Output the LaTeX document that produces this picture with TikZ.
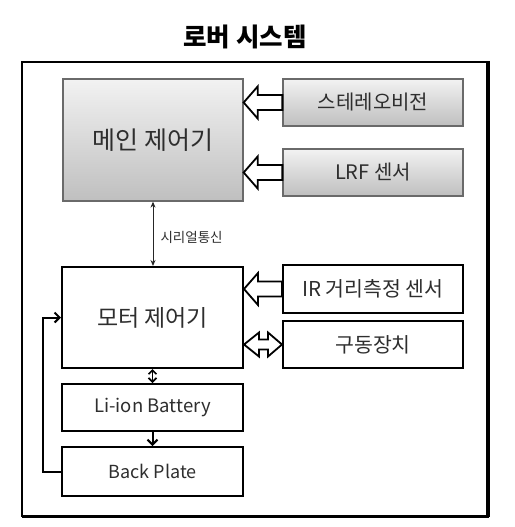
\documentclass[tikz,border=0pt]{standalone}
\usepackage{fontspec}
\setmainfont{Noto Sans CJK KR}
\usetikzlibrary{calc,arrows.meta,shadows}
\definecolor{txt}{HTML}{2E2E2E}
\definecolor{gtop}{HTML}{F2F2F2}
\definecolor{gbot}{HTML}{BFBFBF}
\definecolor{gedge}{HTML}{6A6A6A}
\tikzset{
  graybox/.style={draw=gedge, line width=1.3pt, top color=gtop, bottom color=gbot,
    inner sep=0pt, text=txt, font=\fontsize{20}{22}\selectfont,
    drop shadow={shadow xshift=1.2pt, shadow yshift=-1.2pt, opacity=0.35}},
  whitebox/.style={draw=black, line width=2pt, fill=white, inner sep=0pt, text=txt,
    font=\fontsize{20.5}{22}\selectfont},
  hollow/.style={draw=black, line width=1.8pt, fill=white, line join=miter},
  thinarrow/.style={draw=black!85, line width=0.9pt, {Stealth[length=6pt,width=5pt]}-{Stealth[length=6pt,width=5pt]}},
  barb/.style={draw=black, line width=2pt},
}
\newcommand\harrow[2]{% tip node, tail node
  \coordinate (T) at (#1.east |- #2.west);
  \draw[hollow] (T) -- ($(T)+(14,-16)$) -- ($(T)+(14,-7.5)$) -- ($(#2.west)+(0,-7.5)$)
     -- ($(#2.west)+(0,7.5)$) -- ($(T)+(14,7.5)$) -- ($(T)+(14,16)$) -- cycle;}
\begin{document}
\begin{tikzpicture}[x=1pt,y=-1pt]
\useasboundingbox (0,0) rectangle (514,527);
% title
\node[font=\bfseries\fontsize{25.5}{27}\selectfont, text=black] (title) at (245,37) {로버 시스템};
% frame
\draw[line width=2pt] (22,62) rectangle (487,516);
\draw[line width=3.5pt] (488,61.5) -- (488,517);
\draw[line width=2.5pt] (22,516.5) -- (489,516.5);
% gray boxes
\node[graybox, minimum width=180pt, minimum height=122pt, font=\fontsize{25}{27}\selectfont] (main) at (153,140) {메인 제어기};
\node[graybox, minimum width=180pt, minimum height=47pt] (stereo) at (373,102.5) {스테레오비전};
\node[graybox, minimum width=180pt, minimum height=47pt] (lrf) at (373,172.5) {LRF 센서};
% white boxes
\node[whitebox, minimum width=181pt, minimum height=101pt, font=\fontsize{23}{25}\selectfont] (motor) at (152.5,317.5) {모터 제어기};
\node[whitebox, minimum width=180pt, minimum height=48pt] (ir) at (373,289) {IR 거리측정 센서};
\node[whitebox, minimum width=180pt, minimum height=47pt] (drive) at (373,344.5) {구동장치};
\node[whitebox, minimum width=181pt, minimum height=47pt, font=\fontsize{18.5}{20}\selectfont] (batt) at (152.5,407.5) {Li-ion Battery};
\node[whitebox, minimum width=181pt, minimum height=49pt, font=\fontsize{18}{20}\selectfont] (back) at (152.5,471.5) {Back Plate};
% hollow arrows
\harrow{main}{stereo}
\harrow{main}{lrf}
\harrow{motor}{ir}
% double hollow arrow
\coordinate (L) at (motor.east |- drive.west);
\draw[hollow] (L) -- ($(L)+(15,-12)$) -- ($(L)+(15,-5)$) -- ($(drive.west)+(-14,-5)$)
  -- ($(drive.west)+(-14,-12)$) -- (drive.west) -- ($(drive.west)+(-14,12)$)
  -- ($(drive.west)+(-14,5)$) -- ($(L)+(15,5)$) -- ($(L)+(15,12)$) -- cycle;
% serial link
\draw[thinarrow] (main.south) -- (main.south |- motor.north);
\node[font=\fontsize{13.5}{15}\selectfont, text=txt, anchor=west] (serial) at (157,237) {시리얼통신};
% motor <-> battery
\draw[barb, line width=1.6pt, {Straight Barb[length=4pt,width=8pt]}-{Straight Barb[length=4pt,width=8pt]}] (motor.south) -- (batt.north);
% battery -> back plate
\draw[barb, -{Straight Barb[length=5pt,width=10pt]}] (batt.south) -- (back.north);
% feedback
\draw[barb, -{Straight Barb[length=5pt,width=10pt]}] (back.west) -- ++(-18,0) |- (motor.west);
\end{tikzpicture}
\end{document}
